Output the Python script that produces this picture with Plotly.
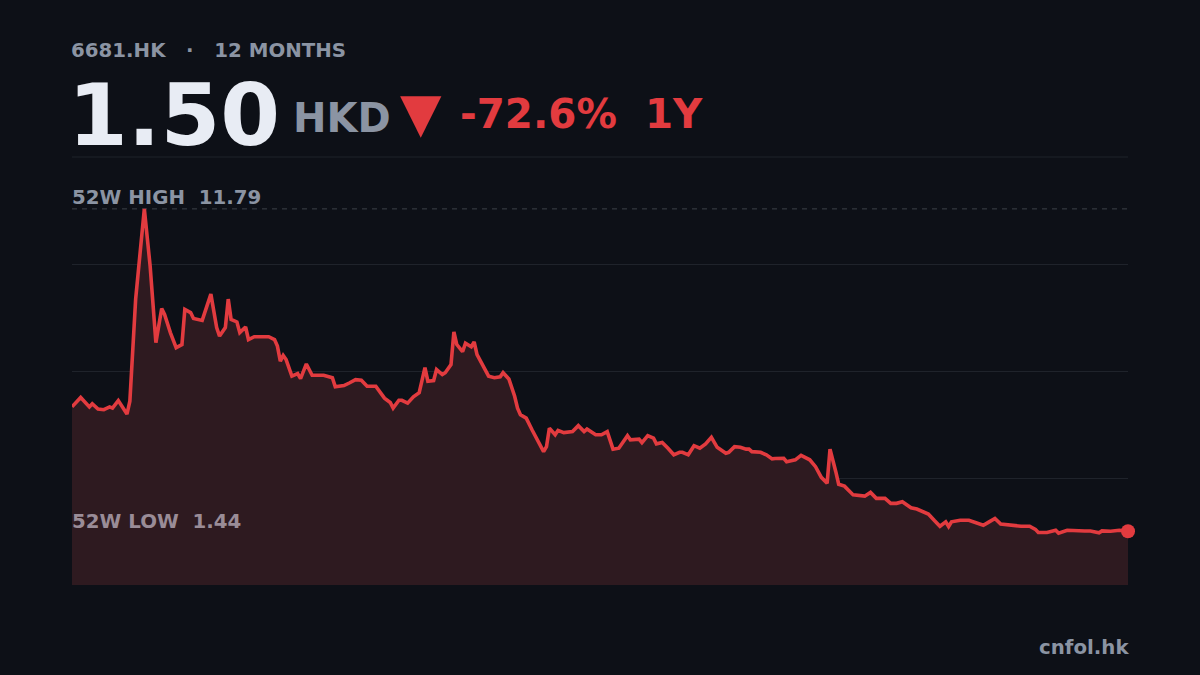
import plotly.graph_objects as go
import pandas as pd

# 收盘价，横轴为自起始日起的天数
days = [0, 3, 6, 7, 9, 11, 13, 14, 16, 18, 19, 20, 22, 25, 27, 29, 31, 32, 34, 36,
        38, 39, 41, 42, 45, 48, 50, 51, 53, 54, 55, 57, 58, 60, 61, 63, 68, 70, 71, 72,
        73, 74, 76, 78, 79, 81, 83, 87, 90, 91, 94, 96, 98, 100, 102, 105, 108, 110, 111, 113,
        114, 116, 118, 120, 122, 123, 125, 126, 128, 129, 131, 132, 133, 135, 136, 138, 139, 140, 142, 144,
        146, 148, 149, 151, 153, 154, 155, 157, 159, 161, 163, 164, 165, 167, 168, 170, 172, 173, 175, 177,
        178, 181, 183, 185, 187, 189, 192, 193, 196, 197, 199, 201, 202, 204, 206, 208, 210, 211, 213, 214,
        215, 217, 219, 221, 223, 226, 227, 229, 231, 233, 234, 235, 238, 240, 242, 243, 246, 247, 250, 252,
        255, 257, 259, 261, 262, 264, 265, 267, 270, 274, 276, 278, 281, 283, 285, 287, 290, 292, 296, 298,
        300, 302, 303, 304, 307, 310, 313, 315, 317, 319, 321, 325, 328, 331, 333, 334, 337, 340, 341, 344,
        347, 350, 352, 355, 356, 359, 362, 365]
prices = [5.47, 5.77, 5.47, 5.57, 5.40, 5.38, 5.47, 5.43, 5.67, 5.38, 5.24, 5.65, 8.91, 11.79, 9.97, 7.52, 8.61, 8.42, 7.84, 7.36,
          7.46, 8.58, 8.48, 8.29, 8.23, 9.07, 8.00, 7.73, 8.00, 8.91, 8.26, 8.18, 7.84, 8.02, 7.62, 7.71, 7.71, 7.62, 7.41, 6.93,
          7.11, 6.98, 6.45, 6.53, 6.37, 6.84, 6.48, 6.48, 6.40, 6.11, 6.15, 6.24, 6.34, 6.32, 6.13, 6.13, 5.75, 5.61, 5.43, 5.68,
          5.68, 5.59, 5.79, 5.92, 6.72, 6.29, 6.31, 6.66, 6.50, 6.56, 6.82, 7.86, 7.46, 7.23, 7.50, 7.39, 7.54, 7.14, 6.82, 6.45,
          6.40, 6.43, 6.56, 6.36, 5.81, 5.43, 5.22, 5.11, 4.74, 4.36, 4.04, 4.20, 4.79, 4.58, 4.72, 4.65, 4.68, 4.68, 4.87, 4.68,
          4.76, 4.58, 4.58, 4.68, 4.12, 4.15, 4.55, 4.42, 4.44, 4.33, 4.55, 4.47, 4.29, 4.33, 4.15, 3.94, 4.02, 4.02, 3.94, 4.08,
          4.23, 4.15, 4.29, 4.50, 4.18, 3.99, 4.02, 4.20, 4.18, 4.12, 4.12, 4.04, 4.02, 3.94, 3.81, 3.82, 3.83, 3.72, 3.78, 3.92,
          3.78, 3.56, 3.22, 3.03, 4.12, 3.40, 3.00, 2.94, 2.66, 2.62, 2.74, 2.55, 2.55, 2.39, 2.39, 2.44, 2.25, 2.21, 2.05, 1.85,
          1.66, 1.80, 1.65, 1.80, 1.85, 1.85, 1.77, 1.69, 1.80, 1.91, 1.73, 1.69, 1.66, 1.66, 1.56, 1.46, 1.46, 1.53, 1.44, 1.53,
          1.51, 1.51, 1.51, 1.45, 1.51, 1.50, 1.53, 1.50]

ticker = "6681.HK"
currency = "HKD"
source = "cnfol.hk"

BG = "#0d1017"
RED = "#e23b3f"
FILL = "#2e1a20"
GRAY = "#8b94a3"
FONT = "DejaVu Sans"

dates = pd.Timestamp("2024-06-14") + pd.to_timedelta(days, unit="D")
last = prices[-1]
hi, lo = max(prices), min(prices)
change = (last / prices[0] - 1) * 100
span = hi - lo
y0, y1 = lo - 0.16 * span, hi + 0.16 * span
grid = [y0 + (y1 - y0) * k / 4 for k in (1, 2, 3)]

fig = go.Figure()
# 底线，给面积填充用
fig.add_trace(go.Scatter(x=dates, y=[y0] * len(dates), mode="lines",
                         line=dict(width=0), hoverinfo="skip", showlegend=False))
fig.add_trace(go.Scatter(x=dates, y=prices, mode="lines", fill="tonexty", fillcolor=FILL,
                         line=dict(color=RED, width=3.6), showlegend=False, cliponaxis=False))
fig.add_trace(go.Scatter(x=[dates[-1]], y=[last], mode="markers",
                         marker=dict(color=RED, size=14), showlegend=False, cliponaxis=False))

# 52周高低虚线
for v in (hi, lo):
    fig.add_shape(type="line", xref="paper", x0=0, x1=1, yref="y", y0=v, y1=v,
                  line=dict(color="rgba(120,124,134,0.45)", width=1, dash="5px,5px"), layer="below")
fig.add_shape(type="line", xref="paper", x0=0, x1=1, yref="paper", y0=1, y1=1,
              line=dict(color="#1f232b", width=1))

def note(text, x, y, size, color, xanchor="left"):
    fig.add_annotation(text=text, x=x, y=y, xref="paper", yref="paper", showarrow=False,
                       xanchor=xanchor, yanchor="middle",
                       font=dict(family=FONT, size=size, color=color))

note(f"<b>{ticker}\u00a0\u00a0\u00a0·\u00a0\u00a0\u00a012 MONTHS</b>", -0.003, 1.250, 19.8, GRAY)
note(f"<b>{last:.2f}</b>", -0.006, 1.098, 86, "#e8ecf4")
note(f"<b>{currency}</b>", 0.207, 1.092, 40, GRAY)
note("▼", 0.309, 1.103, 54, RED)
note(f"<b>{change:.1f}%\u00a0\u00a01Y</b>", 0.366, 1.100, 40.4, RED)
note(f"<b>52W HIGH\u00a0\u00a0{hi:.2f}</b>", -0.002, 0.9065, 19.8, GRAY)
note(f"<b>52W LOW\u00a0\u00a0{lo:.2f}</b>", -0.002, 0.1495, 19.8, "#9a8c97")
note(f"<b>{source}</b>", 1.003, -0.147, 19.8, GRAY, xanchor="right")

fig.update_layout(
    width=1200, height=675,
    paper_bgcolor=BG, plot_bgcolor=BG,
    margin=dict(l=72, r=72, t=157, b=90),
    xaxis=dict(range=[dates[0], dates[-1]], visible=False, showgrid=False),
    yaxis=dict(range=[y0, y1], tickvals=grid, showticklabels=False,
               gridcolor="#1f232b", gridwidth=1, zeroline=False),
    hovermode=False,
)

fig.write_html("out.html", config={"displayModeBar": False},
               post_script="document.body.style.margin='0';document.body.style.background='#0d1017';")
